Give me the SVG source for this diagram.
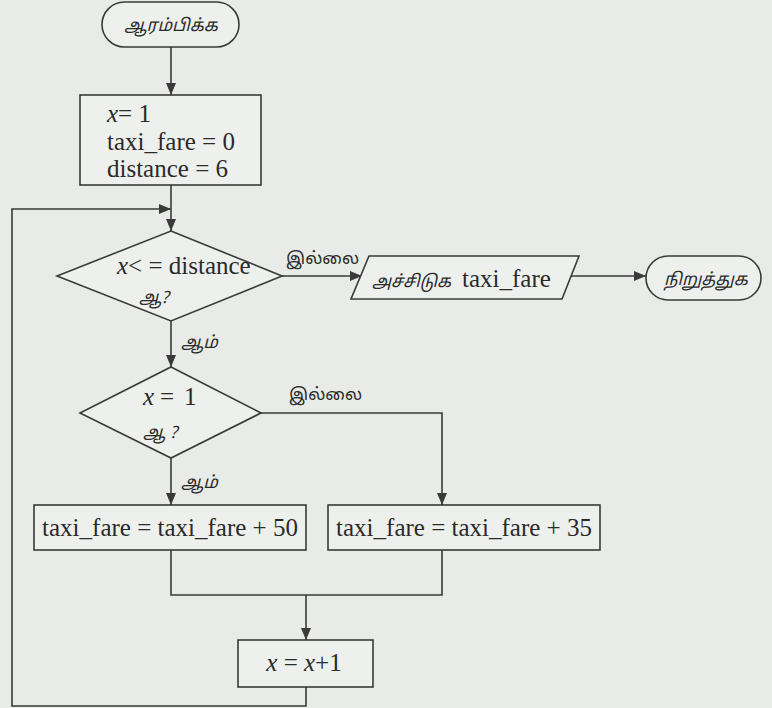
<svg xmlns="http://www.w3.org/2000/svg" width="772" height="708" viewBox="0 0 772 708">
<style>
.s{fill:none;stroke:#3a3a3a;stroke-width:1.6}
.n{fill:#eef0ed;stroke:#3a3a3a;stroke-width:1.6}
text.e{font-family:'Liberation Serif','DejaVu Serif',serif;font-size:25px;fill:#2a2a2a}
text.t{font-family:'Noto Sans Tamil','Noto Sans',sans-serif;font-size:17px;fill:#2a2a2a;font-style:italic}
text.ti{font-family:'Noto Sans Tamil','Noto Sans',sans-serif;font-size:17px;fill:#2a2a2a}
.i{font-style:italic}
</style>
<defs>
<marker id="ah" viewBox="0 0 12 10" refX="12" refY="5" markerWidth="12" markerHeight="10" markerUnits="userSpaceOnUse" orient="auto">
<path d="M0,0 L12,5 L0,10 z" fill="#3a3a3a"/>
</marker>
</defs>
<rect width="772" height="708" fill="#e8ebe7"/>
<g id="connectors">
<path class="s" d="M171,47 V95" marker-end="url(#ah)"/>
<path class="s" d="M171,185 V231" marker-end="url(#ah)"/>
<path class="s" d="M306,687 V706 H12 V209 H171" marker-end="url(#ah)"/>
<path class="s" d="M282,276 H362" marker-end="url(#ah)"/>
<path class="s" d="M567,276 H646" marker-end="url(#ah)"/>
<path class="s" d="M171,321 V367" marker-end="url(#ah)"/>
<path class="s" d="M261,413 H442 V505" marker-end="url(#ah)"/>
<path class="s" d="M171,458 V505" marker-end="url(#ah)"/>
<path class="s" d="M171,550 V595 H442 V550"/>
<path class="s" d="M306,595 V640" marker-end="url(#ah)"/>
<text class="ti" x="286" y="264">இல்லை</text>
<text class="t" x="181" y="348">ஆம்</text>
<text class="ti" x="289" y="400">இல்லை</text>
<text class="t" x="181" y="488">ஆம்</text>
</g>
<g id="start">
<rect class="n" x="102" y="2" width="137" height="45" rx="22.5"/>
<text class="t" x="171" y="31" text-anchor="middle" font-size="18">ஆரம்பிக்க</text>
</g>
<g id="init">
<rect class="n" x="80" y="95" width="181" height="90"/>
<text class="e" x="107" y="122" font-size="26"><tspan class="i">x</tspan>= 1</text>
<text class="e" x="107" y="150" font-size="26">taxi_fare = 0</text>
<text class="e" x="107" y="177" font-size="26">distance = 6</text>
</g>
<g id="cond1">
<path class="n" d="M171,231 L282,276 L171,321 L57,276 Z"/>
<text class="e" x="117" y="274" font-size="24"><tspan class="i">x</tspan>&lt; = distance</text>
<text class="t" x="139" y="303">ஆ?</text>
</g>
<g id="print">
<path class="n" d="M369,256 L579,256 L562,299 L351,299 Z"/>
<text class="t" x="372" y="287" font-size="20">அச்சிடுக</text>
<text class="e" x="462" y="287" font-size="26">taxi_fare</text>
</g>
<g id="stop">
<rect class="n" x="646" y="256" width="115" height="44" rx="22"/>
<text class="t" x="706" y="285" text-anchor="middle" font-size="18">நிறுத்துக</text>
</g>
<g id="cond2">
<path class="n" d="M171,367 L261,413 L171,458 L80,413 Z"/>
<text class="e" y="405" font-size="24"><tspan class="i" x="143">x</tspan><tspan x="160">=</tspan><tspan x="184">1</tspan></text>
<text class="t" x="143" y="438">ஆ ?</text>
</g>
<g id="add50">
<rect class="n" x="34" y="505" width="272" height="45"/>
<text class="e" x="170" y="536" text-anchor="middle">taxi_fare = taxi_fare + 50</text>
</g>
<g id="add35">
<rect class="n" x="328" y="505" width="272" height="45"/>
<text class="e" x="464" y="536" text-anchor="middle">taxi_fare = taxi_fare + 35</text>
</g>
<g id="incr">
<rect class="n" x="238" y="640" width="135" height="47"/>
<text class="e" x="304" y="671" text-anchor="middle" font-size="27"><tspan class="i">x</tspan> = <tspan class="i">x</tspan>+1</text>
</g>
</svg>
